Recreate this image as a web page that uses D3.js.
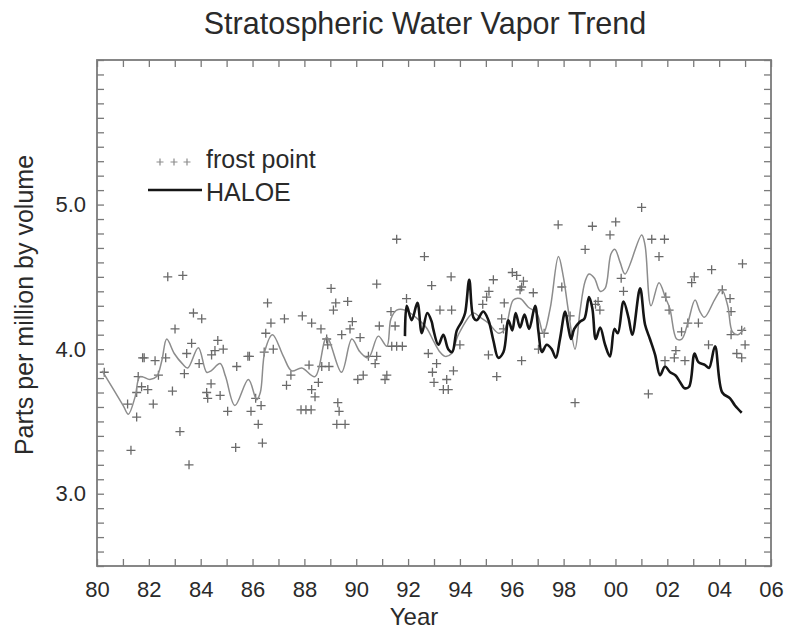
<!DOCTYPE html>
<html lang="en">
<head>
    <meta charset="UTF-8">
    <title>Stratospheric Water Vapor Trend</title>
    <script src="https://cdn.jsdelivr.net/npm/d3@7"></script>
    <style>
        body { margin: 0; background: #fff; }
        text { font-family: "Liberation Sans", Arial, sans-serif; fill: #2a2a2a; }
    </style>
</head>
<body>
    <svg width="788" height="631" id="mainsvg"></svg>
    <script>
        // frost point balloon measurements [year, ppmv]
        const frostPoint = [
            [1980.28,3.84],[1981.18,3.62],[1981.31,3.30],[1981.53,3.70],[1981.53,3.53],[1981.59,3.81],
            [1981.72,3.74],[1981.76,3.94],[1981.82,3.94],[1981.96,3.72],[1982.17,3.62],[1982.24,3.92],
            [1982.37,3.82],[1982.65,3.94],[1982.73,4.50],[1982.91,3.71],[1983.01,4.14],[1983.20,3.43],
            [1983.31,4.51],[1983.37,3.83],[1983.46,3.97],[1983.55,3.20],[1983.65,4.04],[1983.72,4.25],
            [1983.94,3.90],[1984.04,4.21],[1984.23,3.70],[1984.27,3.66],[1984.40,3.76],[1984.42,3.96],
            [1984.55,3.99],[1984.66,4.06],[1984.75,3.68],[1984.87,4.00],[1985.04,3.57],[1985.35,3.32],
            [1985.39,3.88],[1985.82,3.95],[1985.88,3.95],[1985.94,3.57],[1986.12,3.66],[1986.22,3.48],
            [1986.33,3.61],[1986.38,3.35],[1986.45,3.98],[1986.51,4.11],[1986.58,4.32],[1986.71,4.18],
            [1986.80,4.00],[1987.23,4.21],[1987.31,3.75],[1987.48,3.82],[1987.87,3.58],[1987.92,4.23],
            [1988.06,3.58],[1988.18,3.89],[1988.26,3.58],[1988.28,4.18],[1988.28,3.72],[1988.41,3.67],
            [1988.54,3.77],[1988.64,4.14],[1988.67,3.88],[1988.86,4.07],[1988.90,4.03],[1988.95,3.88],
            [1989.03,4.42],[1989.12,4.27],[1989.21,4.32],[1989.25,3.48],[1989.29,3.63],[1989.34,3.57],
            [1989.44,4.10],[1989.57,3.48],[1989.67,4.33],[1989.76,4.14],[1989.85,4.19],[1990.06,3.79],
            [1990.15,4.08],[1990.27,3.82],[1990.47,3.95],[1990.73,3.90],[1990.79,4.45],[1990.79,3.95],
            [1990.89,4.16],[1991.11,3.79],[1991.18,3.82],[1991.34,4.26],[1991.37,4.02],[1991.50,4.16],
            [1991.56,4.76],[1991.56,4.02],[1991.78,4.02],[1991.94,4.35],[1992.63,4.64],[1992.78,3.97],
            [1992.91,4.44],[1992.94,3.84],[1993.00,3.77],[1993.10,3.90],[1993.23,4.27],[1993.36,3.72],
            [1993.49,3.79],[1993.55,3.72],[1993.66,4.50],[1993.68,4.27],[1993.75,3.85],[1994.00,4.03],
            [1994.88,4.31],[1995.03,4.36],[1995.10,3.96],[1995.12,4.40],[1995.29,4.48],[1995.42,3.81],
            [1995.61,4.21],[1995.68,4.14],[1995.71,4.32],[1996.02,4.53],[1996.19,4.51],[1996.32,4.41],
            [1996.38,4.43],[1996.38,3.92],[1996.45,4.47],[1996.83,4.39],[1997.03,4.00],[1997.25,4.11],
            [1997.79,4.86],[1997.93,4.43],[1998.25,4.23],[1998.44,3.63],[1998.83,4.69],[1999.11,4.85],
            [1999.23,4.31],[1999.33,4.33],[1999.40,4.27],[1999.79,4.79],[2000.01,4.88],[2000.22,4.49],
            [2000.31,4.40],[2001.01,4.98],[2001.27,3.69],[2001.40,4.76],[2001.68,4.64],[2001.89,4.76],
            [2001.91,3.92],[2001.94,4.36],[2002.07,4.27],[2002.27,3.94],[2002.33,3.99],[2002.55,4.12],
            [2002.68,3.92],[2002.79,4.18],[2002.94,4.46],[2003.04,4.50],[2003.20,4.18],[2003.59,4.03],
            [2003.71,4.55],[2004.12,4.41],[2004.42,4.35],[2004.46,4.26],[2004.46,4.10],[2004.68,3.97],
            [2004.87,4.13],[2004.87,3.94],[2004.90,4.59],[2005.00,4.03]
        ]

        // smoothed frost point record (thin grey)
        const frostSmooth = [
            [1980.20,3.85],[1981.01,3.61],[1981.21,3.55],[1981.47,3.67],[1981.66,3.81],[1982.04,3.79],
            [1982.30,3.81],[1982.50,3.92],[1982.69,4.07],[1982.98,3.97],[1983.29,3.90],[1983.50,3.87],
            [1983.91,4.01],[1984.23,3.84],[1984.40,3.85],[1984.75,3.90],[1984.96,3.81],[1985.32,3.61],
            [1985.84,3.79],[1986.16,3.65],[1986.30,3.70],[1986.48,3.99],[1986.77,4.10],[1987.19,3.95],
            [1987.51,3.85],[1987.90,3.87],[1988.41,3.81],[1988.86,4.08],[1989.43,3.84],[1989.83,4.07],
            [1990.15,3.98],[1990.47,3.94],[1990.85,4.09],[1991.18,4.02],[1991.34,4.21],[1991.56,4.27],
            [1991.88,4.27],[1992.30,4.22],[1992.70,4.15],[1993.00,4.05],[1993.23,3.98],[1993.43,3.95],
            [1993.68,3.97],[1993.94,4.10],[1994.52,4.25],[1994.78,4.22],[1995.10,4.18],[1995.50,4.11],
            [1995.74,4.14],[1996.06,4.34],[1996.32,4.35],[1996.64,4.29],[1996.96,4.25],[1997.22,4.11],
            [1997.48,4.28],[1997.80,4.64],[1997.99,4.50],[1998.18,4.27],[1998.44,4.00],[1998.63,4.26],
            [1998.83,4.47],[1998.98,4.52],[1999.19,4.49],[1999.41,4.40],[1999.60,4.42],[1999.83,4.66],
            [1999.98,4.69],[2000.18,4.60],[2000.37,4.52],[2001.01,4.79],[2001.14,4.72],[2001.37,4.30],
            [2001.68,4.46],[2001.94,4.35],[2002.10,4.28],[2002.36,4.07],[2002.56,4.07],[2002.79,4.18],
            [2003.07,4.34],[2003.26,4.26],[2003.43,4.22],[2003.85,4.35],[2004.10,4.41],[2004.33,4.30],
            [2004.51,4.12],[2004.72,4.10],[2005.00,4.15]
        ]

        // HALOE satellite record (thick black)
        const haloe = [
            [1991.88,4.09],[1991.95,4.30],[1992.14,4.20],[1992.36,4.32],[1992.53,4.11],[1992.74,4.25],
            [1992.91,4.19],[1992.97,4.14],[1993.17,4.03],[1993.36,4.10],[1993.55,4.00],[1993.70,3.98],
            [1993.88,4.13],[1994.07,4.19],[1994.20,4.25],[1994.36,4.48],[1994.52,4.22],[1994.65,4.20],
            [1994.90,4.26],[1995.10,4.20],[1995.29,4.06],[1995.48,3.94],[1995.68,3.98],[1995.87,4.20],
            [1996.02,4.13],[1996.15,4.25],[1996.32,4.15],[1996.49,4.24],[1996.67,4.14],[1996.90,4.30],
            [1997.03,4.12],[1997.16,3.98],[1997.35,4.03],[1997.54,4.00],[1997.70,3.94],[1997.86,4.07],
            [1998.06,4.26],[1998.18,4.15],[1998.29,4.07],[1998.41,4.14],[1998.63,4.19],[1998.80,4.21],
            [1998.98,4.36],[1999.11,4.28],[1999.24,4.07],[1999.41,4.15],[1999.60,4.03],[1999.79,3.95],
            [1999.96,4.14],[2000.09,4.11],[2000.31,4.33],[2000.50,4.22],[2000.65,4.10],[2000.95,4.42],
            [2001.14,4.17],[2001.33,4.07],[2001.53,3.96],[2001.72,3.82],[2001.91,3.88],[2002.11,3.84],
            [2002.31,3.82],[2002.50,3.77],[2002.66,3.73],[2002.84,3.74],[2003.05,3.97],[2003.20,3.91],
            [2003.46,3.89],[2003.61,3.87],[2003.84,4.02],[2004.12,3.70],[2004.42,3.66],[2004.61,3.61],
            [2004.87,3.56]
        ]

        const yearTicks = d3.range(1980, 2007)
        const ppmvTicks = d3.range(25, 61).map(d => d / 10)
        const ppmvLabels = [3, 4, 5]

        const svg = d3.select('#mainsvg')
        const width = +svg.attr('width')
        const height = +svg.attr('height')
        const margin = {top: 60, right: 17, bottom: 65, left: 97}
        const innerWidth = width - margin.left - margin.right
        const innerHeight = height - margin.top - margin.bottom
        const g = svg.append('g').attr('transform', `translate(${margin.left},${margin.top})`)

        const xScale = d3.scaleLinear().domain([1980, 2006]).range([0, innerWidth])
        const yScale = d3.scaleLinear().domain([2.5, 6.0]).range([innerHeight, 0])

        const yearFmt = d => d % 2 === 0 ? d3.format('02')(d % 100) : ''
        const ppmvFmt = d => ppmvLabels.includes(d) ? d3.format('.1f')(d) : ''

        const styleAxis = sel => {
            sel.select('.domain').remove()
            sel.selectAll('.tick line').attr('stroke', '#7a7a7a').attr('stroke-width', 1.3)
            sel.selectAll('.tick text').filter(function() { return this.textContent === '' }).remove()
            sel.selectAll('.tick text').attr('font-size', '22px').attr('fill', '#2a2a2a')
                .attr('font-family', '"Liberation Sans", Arial, sans-serif')
        }

        g.append('g').attr('transform', `translate(0,${innerHeight})`)
            .call(d3.axisBottom(xScale).tickValues(yearTicks).tickSizeInner(-7).tickSizeOuter(0)
                .tickPadding(15).tickFormat(yearFmt))
            .call(styleAxis)
        g.append('g')
            .call(d3.axisTop(xScale).tickValues(yearTicks).tickSizeInner(-7).tickSizeOuter(0).tickFormat(''))
            .call(styleAxis)
        g.append('g')
            .call(d3.axisLeft(yScale).tickValues(ppmvTicks).tickSizeInner(-7).tickSizeOuter(0)
                .tickPadding(11).tickFormat(ppmvFmt))
            .call(styleAxis)
        g.append('g').attr('transform', `translate(${innerWidth},0)`)
            .call(d3.axisRight(yScale).tickValues(ppmvTicks).tickSizeInner(-7).tickSizeOuter(0).tickFormat(''))
            .call(styleAxis)

        g.append('rect').attr('width', innerWidth).attr('height', innerHeight)
            .attr('fill', 'none').attr('stroke', '#7a7a7a').attr('stroke-width', 1.8)

        const cross = 'M-4.5,0H4.5M0,-4.5V4.5'
        g.append('g').selectAll('path').data(frostPoint).join('path')
            .attr('d', cross)
            .attr('transform', d => `translate(${xScale(d[0])},${yScale(d[1])})`)
            .attr('stroke', '#6a6a6a').attr('stroke-width', 1.3).attr('fill', 'none')

        const line = d3.line()
            .x(d => xScale(d[0]))
            .y(d => yScale(d[1]))
            .curve(d3.curveCatmullRom.alpha(0.5))

        g.append('path').datum(frostSmooth).attr('d', line)
            .attr('fill', 'none').attr('stroke', '#8c8c8c').attr('stroke-width', 1.5)
        g.append('path').datum(haloe).attr('d', line)
            .attr('fill', 'none').attr('stroke', '#151515').attr('stroke-width', 2.6)
            .attr('stroke-linejoin', 'round')

        // legend
        const legend = svg.append('g')
        legend.selectAll('path.lc').data([160, 174, 187]).join('path').attr('class', 'lc')
            .attr('d', 'M-3.5,0H3.5M0,-3.5V3.5')
            .attr('transform', d => `translate(${d},162)`)
            .attr('stroke', '#8c8c8c').attr('stroke-width', 1.2)
        legend.append('line').attr('x1', 148).attr('x2', 202).attr('y1', 190).attr('y2', 190)
            .attr('stroke', '#151515').attr('stroke-width', 2.6)
        legend.append('text').attr('x', 206).attr('y', 168).attr('font-size', '25px').text('frost point')
        legend.append('text').attr('x', 206).attr('y', 201).attr('font-size', '25px').text('HALOE')

        svg.append('text').attr('x', 425).attr('y', 34).attr('text-anchor', 'middle')
            .attr('font-size', '30.5px').text('Stratospheric Water Vapor Trend')
        svg.append('text').attr('transform', 'translate(33,305) rotate(-90)').attr('text-anchor', 'middle')
            .attr('font-size', '25px').text('Parts per million by volume')
        svg.append('text').attr('x', 414).attr('y', 625).attr('text-anchor', 'middle')
            .attr('font-size', '24px').text('Year')
    </script>
</body>
</html>
